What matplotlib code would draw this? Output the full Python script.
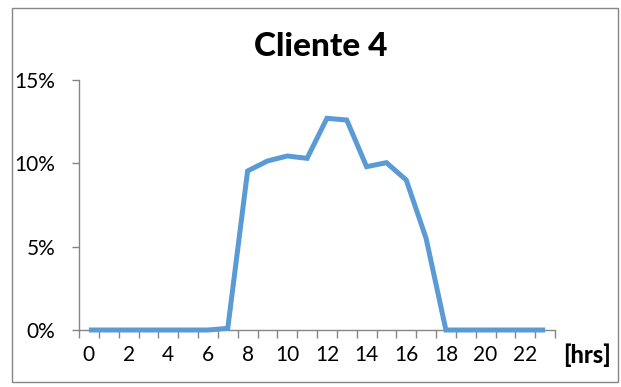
import matplotlib
matplotlib.use("Agg")
import matplotlib.pyplot as plt
from matplotlib.patches import Rectangle
import numpy as np

hours = list(range(24))
share = [0.0, 0.0, 0.0, 0.0, 0.0, 0.0, 0.0, 0.1, 9.54, 10.14, 10.44, 10.3,
         12.7, 12.6, 9.8, 10.04, 9.0, 5.5, 0.0, 0.0, 0.0, 0.0, 0.0, 0.0]
y_ticks = [0, 5, 10, 15]
title = "Cliente 4"
x_unit = "[hrs]"

W, H = 621, 387
fig = plt.figure(figsize=(W / 100, H / 100), dpi=100)
fig.patch.set_facecolor("white")

# outer chart border
fig.patches.append(Rectangle((12 / W, 1 - 382 / H), (618 - 12) / W, (382 - 8) / H,
                             transform=fig.transFigure, fill=False,
                             edgecolor="#868686", linewidth=1.0))

x0, x1 = 79, 555
y0, y1 = 80, 330
ax = fig.add_axes([x0 / W, 1 - y1 / H, (x1 - x0) / W, (y1 - y0) / H])
ax.plot(hours, share, color="#5B9BD5", linewidth=3.6, solid_joinstyle="miter",
        solid_capstyle="butt", zorder=3, clip_on=False)

ax.set_xlim(-0.5, 23.5)
ax.set_ylim(0, 15)
for s in ["top", "right"]:
    ax.spines[s].set_visible(False)
for s in ["left", "bottom"]:
    ax.spines[s].set_color("#868686")
    ax.spines[s].set_linewidth(1.0)

font = "Lato"
ax.set_yticks(y_ticks)
ax.set_yticklabels([f"{v}%" for v in y_ticks], fontsize=15, family=font)
ax.tick_params(axis="y", length=5, color="#868686", pad=12, width=1.0)

# category ticks sit between the hours; labels every two hours
ax.set_xticks(np.arange(-0.5, 24, 1.0), minor=False)
ax.set_xticklabels([])
ax.tick_params(axis="x", length=6, color="#868686", width=1.0)
for h in hours[::2]:
    ax.text(h, -1.5, str(h), ha="center", va="center", fontsize=15, family=font,
            transform=ax.transData)

ax.text(587 / W, 1 - 355 / H, x_unit, transform=fig.transFigure, ha="center",
        va="center", fontsize=17, fontweight="black", family=font)
fig.text(321 / W, 1 - 46 / H, title, ha="center", va="center", fontsize=24,
         fontweight="black", family=font)

fig.savefig("out.png", dpi=100)
